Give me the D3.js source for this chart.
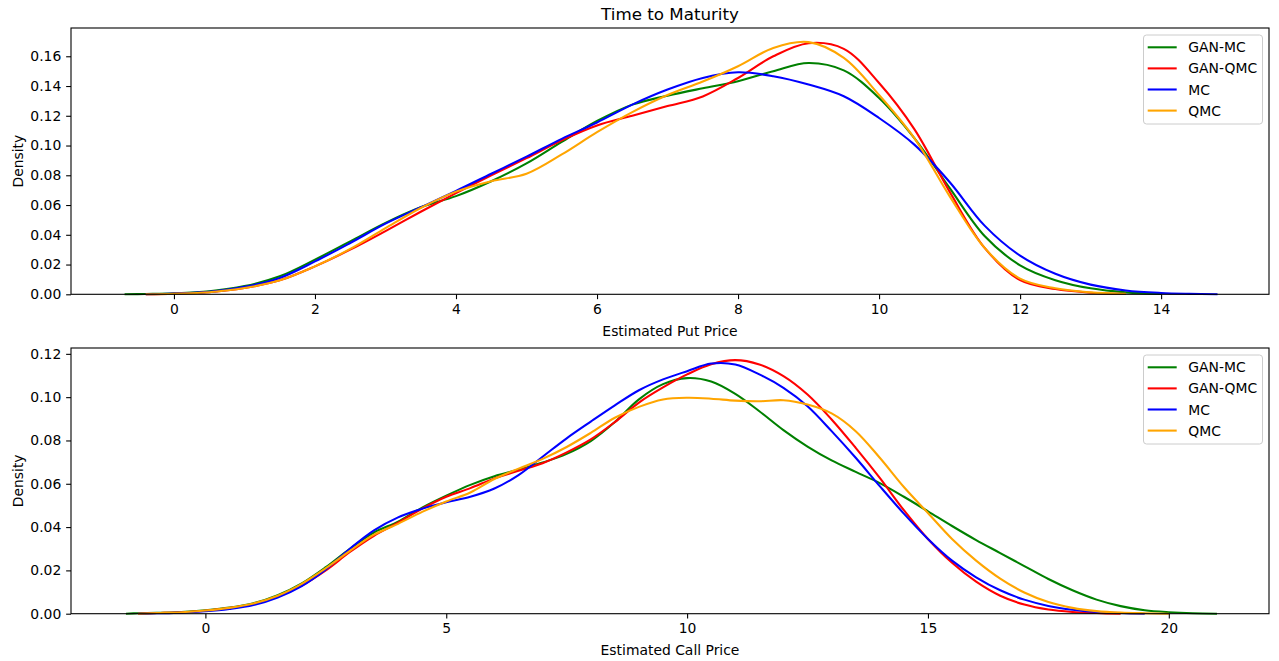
<!DOCTYPE html>
<html>
<head>
<meta charset="utf-8">
<script src="https://cdn.jsdelivr.net/npm/d3@7"></script>
<style>
  body { margin: 0; background: #fff; }
  text { font-family: "DejaVu Sans", sans-serif; fill: #000; }
</style>
</head>
<body>
<script>
// series names and colours shared by both panels
const seriesNames = ["GAN-MC", "GAN-QMC", "MC", "QMC"];
const seriesColors = ["green", "red", "blue", "orange"];

// top panel: density of the estimated put price
const putX = [-0.7, -0.4, 0, 0.5, 1, 1.5, 2, 2.5, 3, 3.5, 4, 4.5, 5, 5.5, 6, 6.5, 7, 7.5, 8, 8.5, 9, 9.5, 10, 10.5, 11, 11.5, 12, 12.5, 13, 13.5, 14, 14.4, 14.8];
const putGanMc = [0, 0.0002, 0.0006, 0.002, 0.0055, 0.0121, 0.0233, 0.0356, 0.048, 0.0585, 0.066, 0.076, 0.088, 0.1025, 0.1165, 0.1275, 0.1335, 0.1385, 0.1432, 0.150, 0.1555, 0.1505, 0.132, 0.105, 0.0715, 0.039, 0.0195, 0.0095, 0.004, 0.0013, 0.0003, null, null];
const putGanQmc = [null, 0, 0.0004, 0.0014, 0.0042, 0.0094, 0.0188, 0.030, 0.0425, 0.0555, 0.068, 0.080, 0.0915, 0.1035, 0.1135, 0.120, 0.1265, 0.133, 0.1454, 0.160, 0.1688, 0.1650, 0.142, 0.111, 0.069, 0.031, 0.0095, 0.0035, 0.0011, 0.0002, null, null, null];
const putMc = [null, 0, 0.0005, 0.0017, 0.005, 0.011, 0.0221, 0.0345, 0.0475, 0.0585, 0.0695, 0.081, 0.0925, 0.1045, 0.1155, 0.1275, 0.1376, 0.1454, 0.1492, 0.1466, 0.141, 0.1331, 0.1185, 0.1006, 0.0755, 0.046, 0.026, 0.0138, 0.0065, 0.0026, 0.0009, 0.0003, 0];
const putQmc = [null, 0, 0.0004, 0.0014, 0.0042, 0.0094, 0.0188, 0.0305, 0.0445, 0.058, 0.069, 0.076, 0.081, 0.094, 0.109, 0.1225, 0.134, 0.143, 0.1533, 0.1656, 0.1695, 0.1589, 0.134, 0.105, 0.066, 0.031, 0.0105, 0.004, 0.0013, 0.0003, null, null, null];
const putXTicks = [0, 2, 4, 6, 8, 10, 12, 14];
const putYTicks = [0, 0.02, 0.04, 0.06, 0.08, 0.10, 0.12, 0.14, 0.16];

// bottom panel: density of the estimated call price
const callX = [-1.65, -1.4, -1, -0.5, 0, 0.5, 1, 1.5, 2, 2.5, 3, 3.5, 4, 4.5, 5, 5.5, 6, 6.5, 7, 7.5, 8, 8.5, 9, 9.5, 10, 10.5, 11, 11.5, 12, 12.5, 13, 13.5, 14, 14.5, 15, 15.5, 16, 16.5, 17, 17.5, 18, 18.5, 19, 19.5, 20, 20.5, 21];
const callGanMc = [0, 0.0002, 0.0004, 0.0008, 0.0016, 0.0028, 0.0048, 0.0085, 0.014, 0.0215, 0.030, 0.0375, 0.0425, 0.049, 0.0545, 0.0595, 0.0635, 0.0665, 0.0698, 0.0738, 0.0797, 0.0885, 0.0990, 0.1060, 0.1088, 0.1072, 0.1015, 0.0935, 0.0848, 0.0772, 0.0708, 0.0655, 0.0603, 0.054, 0.0473, 0.0405, 0.034, 0.028, 0.022, 0.016, 0.0108, 0.0065, 0.0035, 0.0016, 0.0007, 0.0002, 0];
const callGanQmc = [null, 0, 0.0003, 0.0007, 0.0014, 0.0026, 0.0045, 0.008, 0.013, 0.020, 0.0285, 0.036, 0.042, 0.0485, 0.054, 0.058, 0.0625, 0.066, 0.0695, 0.0745, 0.0805, 0.0885, 0.0975, 0.1045, 0.1105, 0.1152, 0.1171, 0.1151, 0.1097, 0.1012, 0.0897, 0.0766, 0.0627, 0.0478, 0.0345, 0.0235, 0.0148, 0.0083, 0.0042, 0.0019, 0.0008, 0.0003, 0, null, null, null, null];
const callMc = [null, 0, 0.0002, 0.0005, 0.0011, 0.0022, 0.0040, 0.0075, 0.0128, 0.0205, 0.030, 0.0385, 0.0445, 0.0485, 0.0515, 0.054, 0.0578, 0.064, 0.0725, 0.081, 0.0887, 0.0962, 0.1032, 0.1082, 0.112, 0.1155, 0.1151, 0.1105, 0.1043, 0.0958, 0.0843, 0.072, 0.0589, 0.0462, 0.0345, 0.0245, 0.0168, 0.0108, 0.0065, 0.0036, 0.0018, 0.0008, 0.0003, 0, null, null, null];
const callQmc = [null, 0, 0.0003, 0.0007, 0.0015, 0.0027, 0.0047, 0.0083, 0.0138, 0.021, 0.029, 0.0365, 0.0415, 0.047, 0.0518, 0.056, 0.0622, 0.067, 0.0715, 0.077, 0.0835, 0.0905, 0.0955, 0.0989, 0.0997, 0.0993, 0.0984, 0.0981, 0.0986, 0.0966, 0.0925, 0.0843, 0.072, 0.0585, 0.0465, 0.0345, 0.0245, 0.0162, 0.0098, 0.0054, 0.0027, 0.0012, 0.0005, 0.0002, 0, null, null];
const callXTicks = [0, 5, 10, 15, 20];
const callYTicks = [0, 0.02, 0.04, 0.06, 0.08, 0.10, 0.12];

const width = 1279;
const height = 661;
const left = 71; // axes left edge
const right = 1269; // axes right edge
const tickLen = 4.86;
const fontSize = 13.9;

const svg = d3.select("body").append("svg")
    .attr("width", width)
    .attr("height", height);

// title over the top panel
svg.append("text")
    .attr("x", (left + right) / 2)
    .attr("y", 20)
    .attr("text-anchor", "middle")
    .style("font-size", "16.7px")
    .text("Time to Maturity");

const drawPanel = (p) => {
    const x = d3.scaleLinear().domain(p.xDomain).range([left, right]);
    const y = d3.scaleLinear().domain(p.yDomain).range([p.bottom, p.top]);
    const g = svg.append("g");

    // density curves
    const line = d3.line()
        .defined((d) => d[1] !== null)
        .x((d) => x(d[0]))
        .y((d) => y(d[1]))
        .curve(d3.curveCatmullRom.alpha(0.5));

    p.series.forEach((vals, i) => {
        const pts = p.xs.map((v, j) => [v, vals[j]]);
        g.append("path")
            .datum(pts)
            .attr("fill", "none")
            .attr("stroke", seriesColors[i])
            .attr("stroke-width", 2.08)
            .attr("d", line);
    });

    // axes
    const xAxis = d3.axisBottom(x)
        .tickValues(p.xTicks)
        .tickSize(tickLen)
        .tickPadding(4.86)
        .tickFormat(d3.format("d"));
    const yAxis = d3.axisLeft(y)
        .tickValues(p.yTicks)
        .tickSize(tickLen)
        .tickPadding(4.86)
        .tickFormat(d3.format(".2f"));

    const gx = g.append("g").attr("transform", `translate(0,${p.bottom})`).call(xAxis);
    const gy = g.append("g").attr("transform", `translate(${left},0)`).call(yAxis);
    [gx, gy].forEach((a) => {
        a.select(".domain").remove();
        a.selectAll("line").attr("stroke", "#000").attr("stroke-width", 1.1);
        a.selectAll("text").style("font-size", fontSize + "px").attr("fill", "#000");
    });

    // spines
    g.append("rect")
        .attr("x", left)
        .attr("y", p.top)
        .attr("width", right - left)
        .attr("height", p.bottom - p.top)
        .attr("fill", "none")
        .attr("stroke", "#000")
        .attr("stroke-width", 1.1);

    // axis labels
    g.append("text")
        .attr("x", (left + right) / 2)
        .attr("y", p.bottom + 41.3)
        .attr("text-anchor", "middle")
        .style("font-size", fontSize + "px")
        .text(p.xLabel);

    g.append("text")
        .attr("transform", `translate(23,${(p.top + p.bottom) / 2}) rotate(-90)`)
        .attr("text-anchor", "middle")
        .style("font-size", fontSize + "px")
        .text("Density");

    // legend
    const lg = g.append("g").attr("transform", `translate(1143.5,${p.top + 7})`);
    lg.append("rect")
        .attr("width", 119)
        .attr("height", 89)
        .attr("rx", 3)
        .attr("fill", "#fff")
        .attr("fill-opacity", 0.8)
        .attr("stroke", "#cccccc")
        .attr("stroke-width", 1);

    seriesNames.forEach((name, i) => {
        const cy = 12.3 + i * 21.1;
        lg.append("line")
            .attr("x1", 4.2)
            .attr("x2", 33.2)
            .attr("y1", cy)
            .attr("y2", cy)
            .attr("stroke", seriesColors[i])
            .attr("stroke-width", 2.08);
        lg.append("text")
            .attr("x", 44.8)
            .attr("y", cy)
            .attr("dy", "0.36em")
            .style("font-size", fontSize + "px")
            .text(name);
    });
};

drawPanel({
    top: 28,
    bottom: 294.3,
    xDomain: [-1.46, 15.53],
    yDomain: [0, 0.179],
    xs: putX,
    series: [putGanMc, putGanQmc, putMc, putQmc],
    xTicks: putXTicks,
    yTicks: putYTicks,
    xLabel: "Estimated Put Price"
});

drawPanel({
    top: 348,
    bottom: 613.7,
    xDomain: [-2.79, 22.08],
    yDomain: [0, 0.1227],
    xs: callX,
    series: [callGanMc, callGanQmc, callMc, callQmc],
    xTicks: callXTicks,
    yTicks: callYTicks,
    xLabel: "Estimated Call Price"
});
</script>
</body>
</html>
